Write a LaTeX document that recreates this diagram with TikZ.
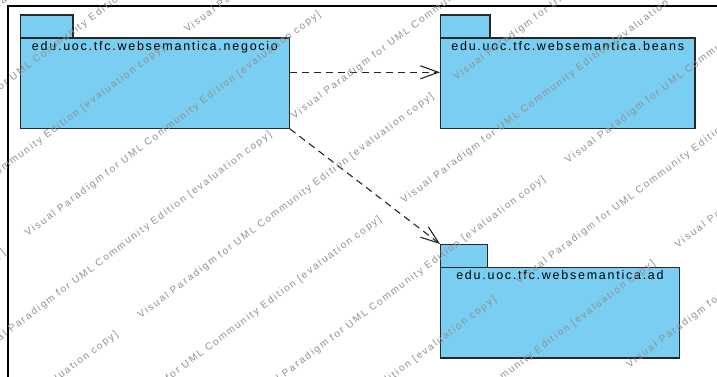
\documentclass[tikz,border=0pt]{standalone}
\usepackage{fontspec}
\setmainfont{Liberation Sans}
\newfontfamily\pkgfont[LetterSpace=14]{Liberation Sans}
\newfontfamily\wmfont[LetterSpace=18]{Liberation Sans}
\usetikzlibrary{arrows.meta,calc}
\definecolor{pkgblue}{RGB}{122,206,242}
\definecolor{pkgline}{RGB}{40,40,40}
\definecolor{wmgray}{RGB}{145,145,145}
\tikzset{
  pkgtab/.style={draw=pkgline, fill=pkgblue, line width=1.2pt, inner sep=0pt, anchor=north west},
  pkgbody/.style={draw=pkgline, fill=pkgblue, line width=1.2pt, inner sep=0pt, anchor=north west},
  pkglabel/.style={inner sep=0pt, anchor=base, font=\pkgfont\fontsize{12.5}{15}\selectfont, text=black},
  dep/.style={draw=black!85, line width=1.1pt, dash pattern=on 7pt off 5pt, -{Straight Barb[length=18pt,width=13pt]}},
  wm/.style={inner sep=0pt, anchor=base west, rotate=37, text=wmgray, font=\wmfont\fontsize{10}{12}\selectfont}
}
\begin{document}
\begin{tikzpicture}[x=1pt,y=-1pt]
\useasboundingbox (0,0) rectangle (717,376);
\fill[white] (0,0) rectangle (717,376);
% canvas frame
\draw[line width=2pt, black] (8,380) -- (8,6) -- (720,6);
% negocio package
\node[pkgtab, minimum width=52.3pt, minimum height=23pt] (negtab) at (20,14.3) {};
\node[pkgbody, minimum width=268.7pt, minimum height=90.4pt] (negbody) at (20,37.3) {};
\node[pkglabel] (neglabel) at ($(negbody.north)+(0,13.4)$) {edu.uoc.tfc.websemantica.negocio};
% beans package
\node[pkgtab, minimum width=49.3pt, minimum height=23pt] (beanstab) at (440,14.3) {};
\node[pkgbody, minimum width=254.3pt, minimum height=90.4pt] (beansbody) at (440,37.3) {};
\node[pkglabel] (beanslabel) at ($(beansbody.north)+(0,13.4)$) {edu.uoc.tfc.websemantica.beans};
% ad package
\node[pkgtab, minimum width=46.7pt, minimum height=22.7pt] (adtab) at (440,244) {};
\node[pkgbody, minimum width=238.7pt, minimum height=90.6pt] (adbody) at (440,266.7) {};
\node[pkglabel] (adlabel) at ($(adbody.north)+(0,12.6)$) {edu.uoc.tfc.websemantica.ad};
% dependencies
\draw[dep] ([yshift=10.8pt]negbody.east) -- ([yshift=10.8pt]beansbody.west);
\draw[dep] (negbody.south east) -- (adtab.north west);
% watermark
\begin{scope}
\clip (0,0) rectangle (717,376);
\foreach \o/\t [count=\k] in {5.6/91.6, 72.3/235.7, 139/129.5, 205.7/274.7, 272.4/163.1, 339.1/315.5, 405.8/199.8, 472.5/354.9, 539.2/243.3, 605.9/391.6, 672.6/281.0}{
  \foreach \m [count=\j] in {-2,-1,0,1}{
    \node[wm] (wm\k-\j) at ({(\t+395*(\m))*0.799+\o*0.602},{-(\t+395*(\m))*0.602+\o*0.799}) {Visual Paradigm for UML Community Edition [evaluation copy]};
  }
}
\end{scope}
\end{tikzpicture}
\end{document}
